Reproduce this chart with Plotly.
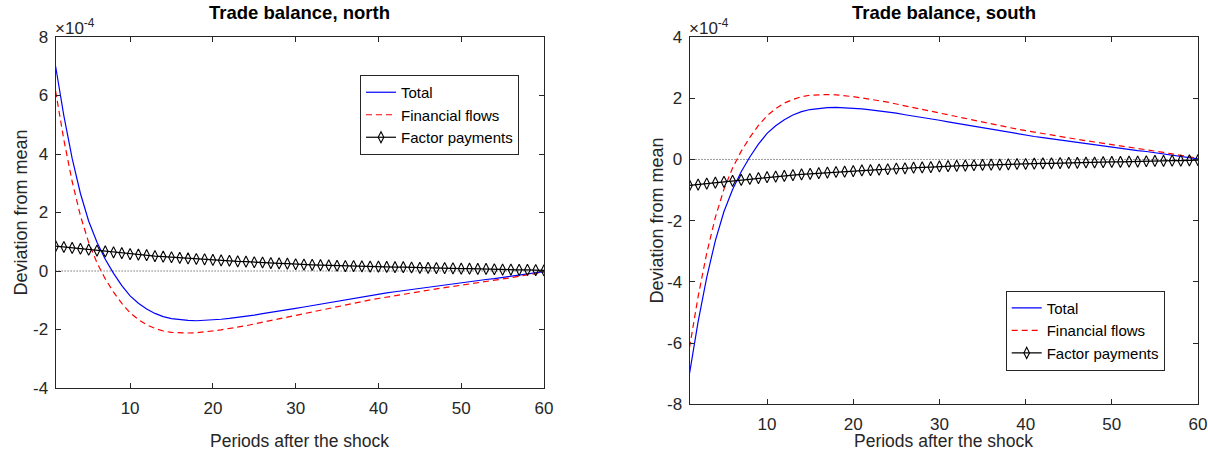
import plotly.graph_objects as go

# Periods
periods = list(range(1, 61))

# Values in units of 1e-4
north_total = [7.00, 5.30, 3.85, 2.65, 1.70, 0.98, 0.40, -0.08, -0.50, -0.85,
               -1.10, -1.30, -1.45, -1.56, -1.63, -1.67, -1.69, -1.70, -1.69, -1.67,
               -1.65, -1.62, -1.59, -1.55, -1.51, -1.46, -1.42, -1.38, -1.33, -1.28,
               -1.23, -1.18, -1.13, -1.08, -1.03, -0.98, -0.93, -0.88, -0.84, -0.79,
               -0.75, -0.71, -0.67, -0.63, -0.59, -0.55, -0.51, -0.47, -0.44, -0.40,
               -0.36, -0.33, -0.29, -0.26, -0.22, -0.18, -0.14, -0.10, -0.06, -0.02]
north_financial = [6.15, 4.48, 3.06, 1.89, 0.97, 0.28, -0.27, -0.72, -1.11, -1.43,
                   -1.66, -1.84, -1.96, -2.05, -2.10, -2.12, -2.12, -2.11, -2.09, -2.05,
                   -2.01, -1.97, -1.92, -1.87, -1.81, -1.75, -1.69, -1.64, -1.58, -1.51,
                   -1.45, -1.39, -1.33, -1.27, -1.21, -1.15, -1.10, -1.04, -0.99, -0.94,
                   -0.89, -0.84, -0.80, -0.75, -0.70, -0.66, -0.61, -0.57, -0.53, -0.48,
                   -0.44, -0.40, -0.36, -0.32, -0.27, -0.23, -0.18, -0.14, -0.09, -0.04]
north_factor = [0.85, 0.82, 0.79, 0.76, 0.73, 0.70, 0.67, 0.64, 0.61, 0.58,
                0.56, 0.54, 0.51, 0.49, 0.47, 0.45, 0.43, 0.41, 0.40, 0.38,
                0.36, 0.35, 0.33, 0.32, 0.30, 0.29, 0.27, 0.26, 0.25, 0.23,
                0.22, 0.21, 0.20, 0.19, 0.18, 0.17, 0.17, 0.16, 0.15, 0.15,
                0.14, 0.13, 0.13, 0.12, 0.11, 0.11, 0.10, 0.10, 0.09, 0.08,
                0.08, 0.07, 0.07, 0.06, 0.05, 0.05, 0.04, 0.04, 0.03, 0.02]

south_total = [-7.00, -5.30, -3.85, -2.65, -1.70, -0.98, -0.40, 0.08, 0.50, 0.85,
               1.10, 1.30, 1.45, 1.56, 1.63, 1.67, 1.69, 1.70, 1.69, 1.67,
               1.65, 1.62, 1.59, 1.55, 1.51, 1.46, 1.42, 1.38, 1.33, 1.28,
               1.23, 1.18, 1.13, 1.08, 1.03, 0.98, 0.93, 0.88, 0.84, 0.79,
               0.75, 0.71, 0.67, 0.63, 0.59, 0.55, 0.51, 0.47, 0.44, 0.40,
               0.36, 0.33, 0.29, 0.26, 0.22, 0.18, 0.14, 0.10, 0.06, 0.02]
south_financial = [-6.15, -4.48, -3.06, -1.89, -0.97, -0.28, 0.27, 0.72, 1.11, 1.43,
                   1.66, 1.84, 1.96, 2.05, 2.10, 2.12, 2.12, 2.11, 2.09, 2.05,
                   2.01, 1.97, 1.92, 1.87, 1.81, 1.75, 1.69, 1.64, 1.58, 1.51,
                   1.45, 1.39, 1.33, 1.27, 1.21, 1.15, 1.10, 1.04, 0.99, 0.94,
                   0.89, 0.84, 0.80, 0.75, 0.70, 0.66, 0.61, 0.57, 0.53, 0.48,
                   0.44, 0.40, 0.36, 0.32, 0.27, 0.23, 0.18, 0.14, 0.09, 0.04]
south_factor = [-0.85, -0.82, -0.79, -0.76, -0.73, -0.70, -0.67, -0.64, -0.61, -0.58,
                -0.56, -0.54, -0.51, -0.49, -0.47, -0.45, -0.43, -0.41, -0.40, -0.38,
                -0.36, -0.35, -0.33, -0.32, -0.30, -0.29, -0.27, -0.26, -0.25, -0.23,
                -0.22, -0.21, -0.20, -0.19, -0.18, -0.17, -0.17, -0.16, -0.15, -0.15,
                -0.14, -0.13, -0.13, -0.12, -0.11, -0.11, -0.10, -0.10, -0.09, -0.08,
                -0.08, -0.07, -0.07, -0.06, -0.05, -0.05, -0.04, -0.04, -0.03, -0.02]

zero_line = [0] * 60

x_ticks = [10, 20, 30, 40, 50, 60]
north_y_ticks = [-4, -2, 0, 2, 4, 6, 8]
north_y_labels = ["-4", "-2", "0", "2", "4", "6", "8"]
south_y_ticks = [-8, -6, -4, -2, 0, 2, 4]
south_y_labels = ["-8", "-6", "-4", "-2", "0", "2", "4"]

series_names = ["Total", "Financial flows", "Factor payments"]
titles = ["Trade balance, north", "Trade balance, south"]

FONT = "Liberation Sans, Arial, Helvetica, sans-serif"
AX = "#262626"

fig = go.Figure()

def add_panel(xa, ya, leg, total, fin, fac):
    fig.add_trace(go.Scatter(x=periods, y=zero_line, mode="lines",
                             line=dict(color="black", width=0.8, dash="1px,2px"),
                             showlegend=False, hoverinfo="skip",
                             xaxis=xa, yaxis=ya))
    fig.add_trace(go.Scatter(x=periods, y=total, mode="lines", name=series_names[0],
                             line=dict(color="#0000ff", width=1.2),
                             xaxis=xa, yaxis=ya, legend=leg))
    fig.add_trace(go.Scatter(x=periods, y=fin, mode="lines", name=series_names[1],
                             line=dict(color="#ff0000", width=1.2, dash="6px,4px"),
                             xaxis=xa, yaxis=ya, legend=leg))
    fig.add_trace(go.Scatter(x=periods, y=fac, mode="lines+markers", name=series_names[2],
                             line=dict(color="black", width=1.2),
                             marker=dict(symbol="diamond-tall-open", size=8, color="black",
                                         line=dict(width=1.1, color="black")),
                             xaxis=xa, yaxis=ya, legend=leg))

add_panel("x", "y", "legend", north_total, north_financial, north_factor)
add_panel("x2", "y2", "legend2", south_total, south_financial, south_factor)

axis_common = dict(showgrid=False, zeroline=False, showline=True, linecolor=AX,
                   linewidth=1, mirror="ticks", ticks="inside", ticklen=5,
                   tickcolor=AX, tickwidth=1, automargin=False,
                   tickfont=dict(family=FONT, size=17, color=AX))

fig.update_layout(
    template="none",
    width=1208, height=452,
    margin=dict(l=0, r=0, t=0, b=0, autoexpand=False),
    paper_bgcolor="white", plot_bgcolor="white",
    xaxis=dict(domain=[55.6/1208, 544/1208], range=[1, 60], tickvals=x_ticks,
               anchor="y", ticklabelstandoff=5, **axis_common),
    yaxis=dict(domain=[1-388/452, 1-37/452], range=[-4, 8], tickvals=north_y_ticks,
               ticktext=north_y_labels, anchor="x", ticklabelstandoff=3, **axis_common),
    xaxis2=dict(domain=[689.5/1208, 1198/1208], range=[1, 60], tickvals=x_ticks,
                anchor="y2", ticklabelstandoff=4, **axis_common),
    yaxis2=dict(domain=[1-404.3/452, 1-37/452], range=[-8, 4], tickvals=south_y_ticks,
                ticktext=south_y_labels, anchor="x2", ticklabelstandoff=3, **axis_common),
    legend=dict(x=360/1208, y=1-75/452, xanchor="left", yanchor="top",
                bgcolor="white", bordercolor=AX, borderwidth=1,
                font=dict(family=FONT, size=15, color="black"),
                tracegroupgap=0, itemwidth=30),
    legend2=dict(x=1005.7/1208, y=1-290.7/452, xanchor="left", yanchor="top",
                 bgcolor="white", bordercolor=AX, borderwidth=1,
                 font=dict(family=FONT, size=15, color="black"),
                 tracegroupgap=0, itemwidth=30),
    showlegend=True,
)

annotations = [
    dict(text="<b>" + titles[0] + "</b>", x=(55.6+544)/2/1208, y=1-13/452),
    dict(text="<b>" + titles[1] + "</b>", x=(689.5+1198)/2/1208, y=1-13/452),
]
for a in annotations:
    a.update(xref="paper", yref="paper", xanchor="center", yanchor="middle",
             showarrow=False, font=dict(family=FONT, size=18.5, color="black"))
fig.update_layout(annotations=annotations)

for xc in [(55.6+544)/2, (689.5+1198)/2]:
    fig.add_annotation(text="Periods after the shock", x=xc/1208, y=0,
                       xref="paper", yref="paper", xanchor="center", yanchor="bottom",
                       borderpad=0, showarrow=False,
                       font=dict(family=FONT, size=17.5, color=AX))
for xc, yc in [(20, (37+388)/2), (656, (37+404)/2)]:
    fig.add_annotation(text="Deviation from mean", x=xc/1208, y=1-yc/452,
                       xref="paper", yref="paper", xanchor="center", yanchor="middle",
                       textangle=-90, showarrow=False,
                       font=dict(family=FONT, size=18, color=AX))
for xl in [53, 687]:
    fig.add_annotation(text="\u00d710<sup>-4</sup>", x=xl/1208, y=1-27/452,
                       xref="paper", yref="paper", xanchor="left", yanchor="middle",
                       showarrow=False, font=dict(family=FONT, size=17, color=AX))

fig.write_html("out.html")
